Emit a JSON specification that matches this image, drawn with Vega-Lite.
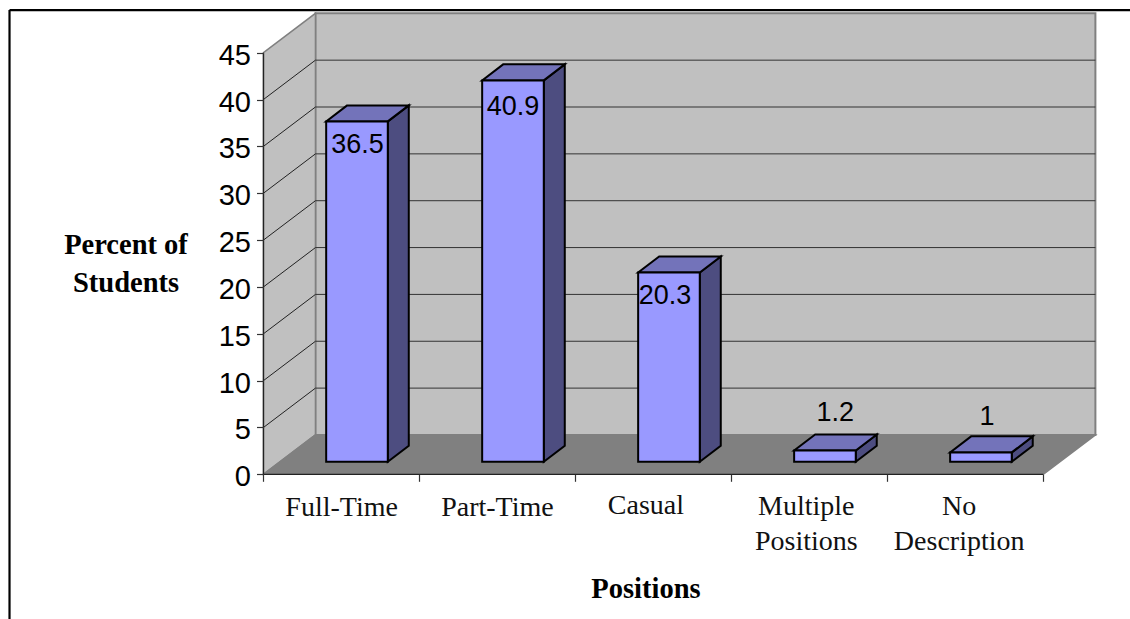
{
"$schema":"https://vega.github.io/schema/vega-lite/v6.json",
"width":1130,"height":619,"autosize":{"type":"none"},"padding":0,"background":"white",
"config":{"view":{"stroke":null}},
"datasets":{
"bars":[{"category":"Full-Time","value":36.5},{"category":"Part-Time","value":40.9},{"category":"Casual","value":20.3},{"category":"Multiple Positions","value":1.2},{"category":"No Description","value":1}],
"depth":[{"depth":0},{"depth":1}],
"grid":[{"level":5},{"level":10},{"level":15},{"level":20},{"level":25},{"level":30},{"level":35},{"level":40}],
"domainEdges":[{"edge":"y"},{"edge":"x"}],
"frameEdges":[{"edge":"left"},{"edge":"top"}]
},
"encoding":{
"x":{"field":"x","type":"quantitative","stack":false,"scale":{"domain":[-1.689,5.5551],"nice":false,"zero":false},
"axis":{"values":[0,1,2,3,4,5],"labels":false,"grid":false,"domain":false,"offset":-144.7,"tickSize":7,"tickColor":"#333333","tickWidth":1.2,"zindex":1,"title":"Positions","titleFont":"Liberation Serif","titleFontWeight":"bold","titleFontSize":28.5,"titleColor":"black","titleX":645.5,"titleY":123,"titleAlign":"center","titleBaseline":"alphabetic"}},
"y":{"field":"y","type":"quantitative","stack":false,"scale":{"domain":[-15.44,50.62],"nice":false,"zero":false},
"axis":{"values":[0,5,10,15,20,25,30,35,40,45],"grid":false,"domain":false,"offset":-263.5,"tickSize":7,"tickColor":"#333333","tickWidth":1.2,"labelPadding":6,"labelOffset":2.5,"labelFont":"Liberation Sans","labelFontSize":29,"labelColor":"black","zindex":1,"title":["Percent of","Students"],"titleFont":"Liberation Serif","titleFontWeight":"bold","titleFontSize":28.5,"titleColor":"black","titleAngle":0,"titleX":-138,"titleY":253,"titleAlign":"center","titleBaseline":"alphabetic","titleLineHeight":38}}
},
"layer":[
{"data":{"name":"depth"},"transform":[{"filter":"datum.depth==0"},{"calculate":"0.3333","as":"x"},{"calculate":"5.3333","as":"x2"},{"calculate":"4.2","as":"y"},{"calculate":"49.2","as":"y2"}],
"mark":{"type":"rect","fill":"#C0C0C0","stroke":"#808080","strokeWidth":2},"encoding":{"x2":{"field":"x2"},"y2":{"field":"y2"}}},
{"data":{"name":"depth"},"transform":[{"calculate":"0.3333*datum.depth","as":"x"},{"calculate":"4.2*datum.depth","as":"y"},{"calculate":"45+4.2*datum.depth","as":"y2"}],
"mark":{"type":"area","fill":"#C0C0C0","stroke":"#808080","strokeWidth":1.5},"encoding":{"y2":{"field":"y2"}}},
{"data":{"name":"depth"},"transform":[{"calculate":"0.3333*datum.depth","as":"x"},{"calculate":"5+0.3333*datum.depth","as":"x2"},{"calculate":"4.2*datum.depth","as":"y"}],
"mark":{"type":"area","orient":"horizontal","fill":"#808080","stroke":"#808080","strokeWidth":1.5},"encoding":{"x2":{"field":"x2"}}},
{"data":{"name":"grid"},"transform":[{"calculate":"0.3333","as":"x"},{"calculate":"5.3333","as":"x2"},{"calculate":"datum.level+4.2","as":"y"}],
"mark":{"type":"rule","stroke":"#333333","strokeWidth":1},"encoding":{"x2":{"field":"x2"}}},
{"data":{"name":"grid"},"transform":[{"calculate":"0","as":"x"},{"calculate":"0.3333","as":"x2"},{"calculate":"datum.level","as":"y"},{"calculate":"datum.level+4.2","as":"y2"}],
"mark":{"type":"rule","stroke":"#222222","strokeWidth":1},"encoding":{"x2":{"field":"x2"},"y2":{"field":"y2"}}},
{"data":{"name":"domainEdges"},"transform":[{"calculate":"0","as":"x"},{"calculate":"datum.edge=='x'?5:0","as":"x2"},{"calculate":"0","as":"y"},{"calculate":"datum.edge=='y'?45:0","as":"y2"}],
"mark":{"type":"rule","stroke":"#222222","strokeWidth":1.3},"encoding":{"x2":{"field":"x2"},"y2":{"field":"y2"}}},
{"data":{"name":"bars"},"transform":[{"calculate":"indexof(['Full-Time','Part-Time','Casual','Multiple Positions','No Description'],datum.category)","as":"i"},{"calculate":"[0,1]","as":"t"},{"flatten":["t"]},{"calculate":"datum.i+0.797+0.1346*datum.t","as":"x"},{"calculate":"1.345+1.71*datum.t","as":"y"},{"calculate":"1.345+0.995*datum.value+1.71*datum.t","as":"y2"}],
"mark":{"type":"area","fill":"#4D4D80","stroke":"black","strokeWidth":2,"strokeJoin":"miter"},"encoding":{"y2":{"field":"y2"},"detail":{"field":"category"}}},
{"data":{"name":"bars"},"transform":[{"calculate":"indexof(['Full-Time','Part-Time','Casual','Multiple Positions','No Description'],datum.category)","as":"i"},{"calculate":"[0,1]","as":"t"},{"flatten":["t"]},{"calculate":"datum.i+0.402+0.1346*datum.t","as":"x"},{"calculate":"datum.i+0.797+0.1346*datum.t","as":"x2"},{"calculate":"1.345+0.995*datum.value+1.71*datum.t","as":"y"}],
"mark":{"type":"area","orient":"horizontal","fill":"#7373BA","stroke":"black","strokeWidth":2,"strokeJoin":"miter"},"encoding":{"x2":{"field":"x2"},"detail":{"field":"category"}}},
{"data":{"name":"bars"},"transform":[{"calculate":"indexof(['Full-Time','Part-Time','Casual','Multiple Positions','No Description'],datum.category)","as":"i"},{"calculate":"datum.i+0.402","as":"x"},{"calculate":"datum.i+0.797","as":"x2"},{"calculate":"1.345","as":"y"},{"calculate":"1.345+0.995*datum.value","as":"y2"}],
"mark":{"type":"rect","fill":"#9999FF","stroke":"black","strokeWidth":2},"encoding":{"x2":{"field":"x2"},"y2":{"field":"y2"}}},
{"data":{"name":"bars"},"transform":[{"calculate":"indexof(['Full-Time','Part-Time','Casual','Multiple Positions','No Description'],datum.category)","as":"i"},{"calculate":"datum.i+[0.6026,0.6,0.574,0.665,0.638][datum.i]","as":"x"},{"calculate":"datum.value+[-1.4,-1.7,-1.3,5.3,5.1][datum.i]","as":"y"}],
"mark":{"type":"text","font":"Liberation Sans","fontSize":27,"align":"center","baseline":"middle","color":"black"},"encoding":{"text":{"field":"value","type":"nominal"}}},
{"data":{"name":"bars"},"transform":[{"calculate":"indexof(['Full-Time','Part-Time','Casual','Multiple Positions','No Description'],datum.category)","as":"i"},{"calculate":"datum.i+[0.501,0.5,0.452,0.48,0.46][datum.i]","as":"x"},{"calculate":"[-4.5,-4.5,-4.2,-4.3,-4.3][datum.i]","as":"y"},{"calculate":"replace(datum.category,' ','\\n')","as":"label"}],
"mark":{"type":"text","font":"Liberation Serif","fontSize":28,"align":"center","baseline":"alphabetic","lineBreak":"\n","lineHeight":35,"color":"#111111"},"encoding":{"text":{"field":"label","type":"nominal"}}},
{"data":{"name":"frameEdges"},"transform":[{"calculate":"-1.628","as":"x"},{"calculate":"datum.edge=='left'?-1.628:5.5551","as":"x2"},{"calculate":"49.55","as":"y"},{"calculate":"datum.edge=='left'?-15.44:49.55","as":"y2"}],
"mark":{"type":"rule","stroke":"black","strokeWidth":2.2},"encoding":{"x2":{"field":"x2"},"y2":{"field":"y2"}}}
]
}
